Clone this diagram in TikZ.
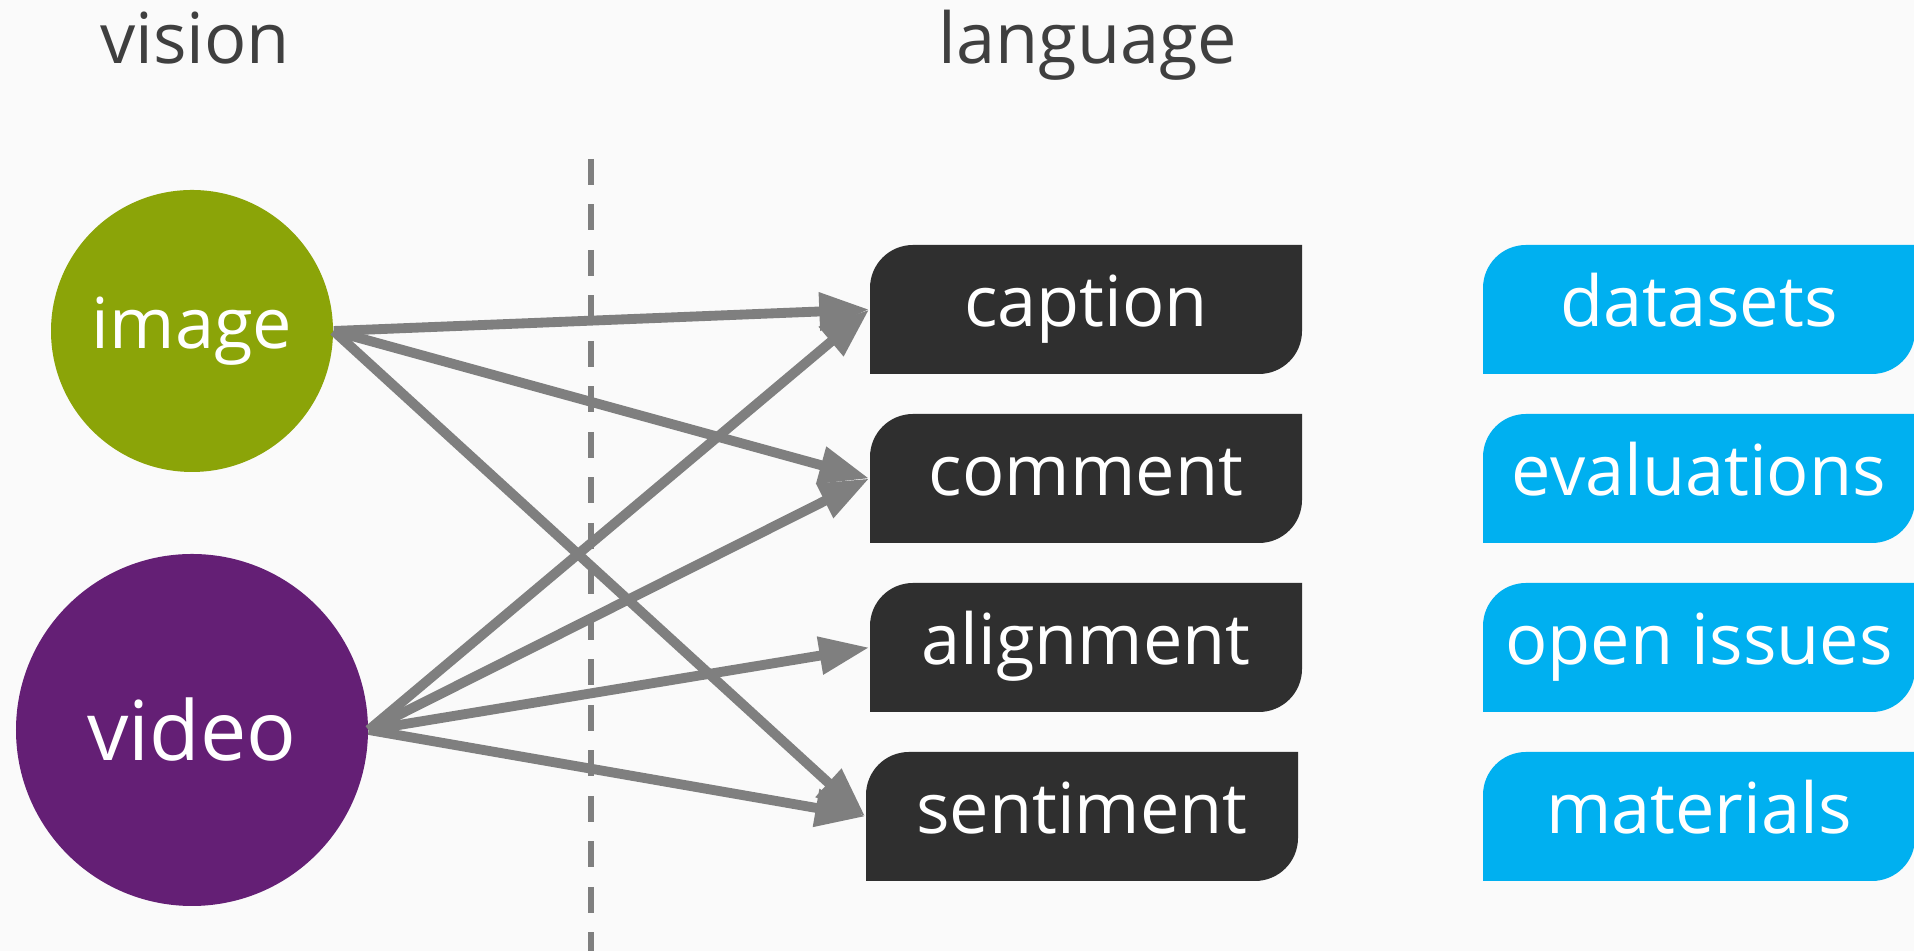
\documentclass[tikz,border=0pt]{standalone}
\usepackage{fontspec}
\setmainfont{Open Sans}
\usetikzlibrary{positioning, arrows.meta}
\definecolor{imagegreen}{HTML}{8BA408}
\definecolor{videopurple}{HTML}{641F75}
\definecolor{boxdark}{HTML}{2F2F2F}
\definecolor{boxblue}{HTML}{00B0F0}
\definecolor{linegray}{HTML}{7F7F7F}
\definecolor{titlegray}{HTML}{3F3F3F}
\definecolor{paper}{HTML}{FAFAFA}
\newcommand{\cornerr}{0.43cm}

\tikzset{
  ball/.style={circle, fill=#1, text=white, inner sep=0pt},
  tag/.style={minimum width=4.32cm, minimum height=1.29cm, inner sep=0pt,
    text=white, text height=0.5cm, text depth=0.15cm,
    path picture={
      \fill[#1] (path picture bounding box.south west)
        -- ([yshift=-\cornerr]path picture bounding box.north west)
        arc[start angle=180, end angle=90, radius=\cornerr]
        -- (path picture bounding box.north east)
        -- ([yshift=\cornerr]path picture bounding box.south east)
        arc[start angle=0, end angle=-90, radius=\cornerr]
        -- cycle;}},
  title/.style={anchor=base, text=titlegray},
  link/.style={draw=linegray, fill=linegray, line width=2.8pt,
    -{Triangle[length=0.5cm, width=0.36cm]}},
  divider/.style={draw=linegray, line width=0.06cm, dash pattern=on 0.26cm off 0.195cm}
}

\begin{document}
\begin{tikzpicture}[node distance=1.69cm, on grid, font=\fontsize{20}{24}\selectfont]
  \fill[paper] (0,0) rectangle (19.14,9.51);
  \useasboundingbox (0,0) rectangle (19.14,9.51);

  % headings
  \node[title] (vision) at (1.95,8.875) {vision};
  \node[title] (language) at (10.88,8.875) {language};

  % vision side
  \node[ball=imagegreen, minimum size=2.82cm] (image) at (1.92,6.20) {image};
  \node[ball=videopurple, minimum size=3.52cm, font=\fontsize{23.5}{28}\selectfont] (video) at (1.92,2.21) {video};

  \coordinate (divtop) at (5.91,7.92);
  \coordinate (divbot) at (5.91,0);
  \draw[divider] (divtop) -- (divbot);

  % language side
  \node[tag=boxdark] (caption) at (10.86,6.415) {caption};
  \node[tag=boxdark] (comment) [below=of caption] {comment};
  \node[tag=boxdark] (alignment) [below=of comment] {alignment};
  \node[tag=boxdark, xshift=-0.04cm] (sentiment) [below=of alignment] {sentiment};

  \node[tag=boxblue] (datasets) [right=6.13cm of caption] {datasets};
  \node[tag=boxblue] (evaluations) [below=of datasets] {evaluations};
  \node[tag=boxblue] (openissues) [below=of evaluations] {open issues};
  \node[tag=boxblue] (materials) [below=of openissues] {materials};

  \foreach \src/\dst in {image/caption, image/comment, image/sentiment,
                         video/caption, video/comment, video/alignment, video/sentiment}
    \draw[link] (\src.east) -- (\dst.west);
\end{tikzpicture}
\end{document}
